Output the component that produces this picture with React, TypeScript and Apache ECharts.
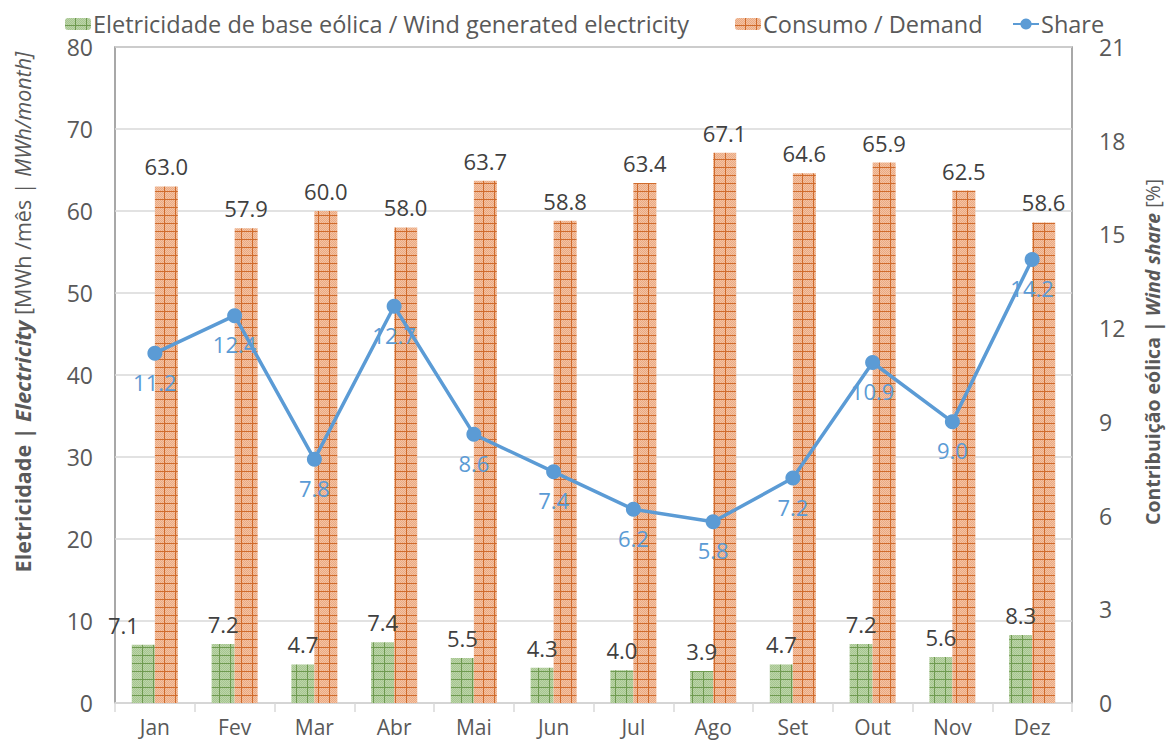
import React, { useEffect, useRef } from "react";
import * as echarts from "echarts";

const months = ["Jan", "Fev", "Mar", "Abr", "Mai", "Jun", "Jul", "Ago", "Set", "Out", "Nov", "Dez"];
const windElectricity = [7.1, 7.2, 4.7, 7.4, 5.5, 4.3, 4.0, 3.9, 4.7, 7.2, 5.6, 8.3];
const demand = [63.0, 57.9, 60.0, 58.0, 63.7, 58.8, 63.4, 67.1, 64.6, 65.9, 62.5, 58.6];
const share = [11.2, 12.4, 7.8, 12.7, 8.6, 7.4, 6.2, 5.8, 7.2, 10.9, 9.0, 14.2];
const leftTicks = { min: 0, max: 80, interval: 10 };
const rightTicks = { min: 0, max: 21, interval: 3 };

const NAME_WIND = "Eletricidade de base eólica / Wind generated electricity";
const NAME_DEMAND = "Consumo / Demand";
const NAME_SHARE = "Share";

const FONT = "'Open Sans', sans-serif";

function makePattern(base: string, dot: string, line: string) {
  const c = document.createElement("canvas");
  const w = 11, h = 8;
  c.width = w;
  c.height = h;
  const ctx = c.getContext("2d")!;
  ctx.fillStyle = base;
  ctx.fillRect(0, 0, w, h);
  ctx.fillStyle = dot;
  for (let y = 0; y < h; y++) {
    for (let x = 0; x < w; x++) {
      if ((x + y) % 2 === 0) ctx.fillRect(x, y, 1, 1);
    }
  }
  ctx.fillStyle = line;
  ctx.fillRect(w - 1, 0, 1, h);
  ctx.fillRect(0, h - 1, w, 1);
  return c;
}

export default function App() {
  const ref = useRef<HTMLDivElement>(null);
  useEffect(() => {
    document.body.style.margin = "0";
    const chart = echarts.init(ref.current!, null, { renderer: "svg" });
    const greenPat = makePattern("#bcd5a9", "#a6c590", "#6f9a50");
    const orangePat = makePattern("#f4c3a4", "#eaa982", "#d06b2c");
    const greenFill: any = { image: greenPat, repeat: "repeat" };
    const orangeFill: any = { image: orangePat, repeat: "repeat" };

    const labelBase = { color: "#404040", fontSize: 22, fontFamily: FONT };
    const legendText = { color: "#595959", fontSize: 23.5, fontFamily: FONT, padding: [0, 0, 0, -3] };

    chart.setOption({
      animation: false,
      textStyle: { fontFamily: FONT },
      grid: {
        left: 115,
        right: 94,
        top: 47,
        bottom: 44,
        show: true,
        borderColor: "#8c8c8c",
        borderWidth: 1.5,
        backgroundColor: "transparent",
      },
      legend: [
        { left: 60, top: 7, itemWidth: 26, itemHeight: 12, data: [NAME_WIND], textStyle: legendText },
        { left: 730, top: 7, itemWidth: 26, itemHeight: 12, data: [NAME_DEMAND], textStyle: legendText },
        { left: 1007, top: 7, itemWidth: 26, itemHeight: 14, data: [NAME_SHARE], textStyle: legendText },
      ],
      xAxis: {
        type: "category",
        data: months,
        boundaryGap: true,
        axisLine: { lineStyle: { color: "#d9d9d9", width: 1.5 } },
        axisTick: { show: true, length: 9, lineStyle: { color: "#d9d9d9", width: 1.5 } },
        axisLabel: { color: "#595959", fontSize: 21, fontFamily: FONT, margin: 13 },
      },
      yAxis: [
        {
          type: "value",
          min: leftTicks.min,
          max: leftTicks.max,
          interval: leftTicks.interval,
          axisLine: { show: false },
          axisTick: { show: false },
          splitLine: { lineStyle: { color: "#d9d9d9", width: 1.5 } },
          axisLabel: { color: "#595959", fontSize: 23, fontFamily: FONT, margin: 22 },
        },
        {
          type: "value",
          min: rightTicks.min,
          max: rightTicks.max,
          interval: rightTicks.interval,
          axisLine: { show: false },
          axisTick: { show: false },
          splitLine: { show: false },
          axisLabel: { color: "#595959", fontSize: 23, fontFamily: FONT, margin: 27 },
        },
      ],
      series: [
        {
          name: NAME_WIND,
          type: "bar",
          data: windElectricity.map((v, i) =>
            i === 0 ? { value: v, label: { offset: [-20, 0] } } : v
          ),
          barWidth: 23,
          barGap: "0%",
          itemStyle: { color: greenFill },
          label: {
            show: true,
            position: "top",
            distance: 9,
            ...labelBase,
            formatter: (p: any) => Number(p.value).toFixed(1),
          },
        },
        {
          name: NAME_DEMAND,
          type: "bar",
          data: demand,
          barWidth: 23,
          barGap: "0%",
          itemStyle: { color: orangeFill },
          label: {
            show: true,
            position: "top",
            distance: 9,
            ...labelBase,
            formatter: (p: any) => Number(p.value).toFixed(1),
          },
        },
        {
          name: NAME_SHARE,
          type: "line",
          yAxisIndex: 1,
          data: share,
          symbol: "circle",
          symbolSize: 15,
          z: 5,
          lineStyle: { color: "#5b9bd5", width: 3.5 },
          itemStyle: { color: "#5b9bd5" },
          label: {
            show: true,
            position: "bottom",
            distance: 10,
            color: "#5b9bd5",
            fontSize: 22,
            fontFamily: FONT,
            formatter: (p: any) => Number(p.value).toFixed(1),
          },
        },
      ],
      graphic: [
        {
          type: "text",
          x: 22,
          y: 312,
          rotation: Math.PI / 2,
          style: {
            text: "{b|Eletricidade | }{bi|Electricity}{n| [MWh /mês | }{i|MWh/month]}",
            align: "center",
            verticalAlign: "middle",
            fill: "#595959",
            rich: {
              b: { fontSize: 21.5, fontWeight: "bold", fontFamily: FONT, fill: "#595959" },
              bi: { fontSize: 21.5, fontWeight: "bold", fontStyle: "italic", fontFamily: FONT, fill: "#595959" },
              n: { fontSize: 21.5, fontFamily: FONT, fill: "#595959" },
              i: { fontSize: 21.5, fontStyle: "italic", fontFamily: FONT, fill: "#595959" },
            },
          },
        },
        {
          type: "text",
          x: 1152,
          y: 352,
          rotation: Math.PI / 2,
          style: {
            text: "{b|Contribuição eólica | }{bi|Wind share}{n| [%]}",
            align: "center",
            verticalAlign: "middle",
            fill: "#595959",
            rich: {
              b: { fontSize: 19.5, fontWeight: "bold", fontFamily: FONT, fill: "#595959" },
              bi: { fontSize: 19.5, fontWeight: "bold", fontStyle: "italic", fontFamily: FONT, fill: "#595959" },
              n: { fontSize: 19.5, fontFamily: FONT, fill: "#595959" },
            },
          },
        },
      ],
    });
    return () => chart.dispose();
  }, []);
  return (
    <div
      ref={ref}
      style={{ position: "absolute", left: 0, top: 0, width: 1166, height: 747, background: "#fff" }}
    />
  );
}
